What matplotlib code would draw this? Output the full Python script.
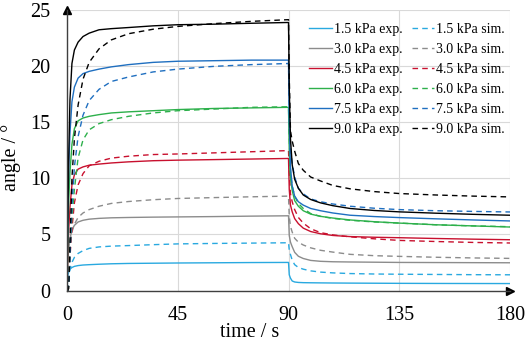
import matplotlib.pyplot as plt

plt.rcParams['font.family'] = ['Liberation Serif', 'DejaVu Serif']

# shared time grid (s)
time = [0, 0.3, 0.7, 1.2, 2, 3, 4.5, 6.5, 9, 13, 18, 25, 35, 45, 60, 75, 90,
        90.3, 90.8, 91.5, 92.5, 94, 96, 99, 103, 108, 115, 125, 135, 150, 165, 180]

# measured angle (deg)
exp_15 = [0, 1.3, 1.65, 1.9, 2.05, 2.15, 2.22, 2.27, 2.3, 2.34, 2.38, 2.41, 2.43, 2.45, 2.47, 2.49, 2.5,
          1.4, 1.1, 0.85, 0.76, 0.72, 0.7, 0.69, 0.68, 0.67, 0.66, 0.65, 0.64, 0.63, 0.625, 0.62]
exp_30 = [0, 2.5, 3.7, 4.6, 5.4, 5.8, 6.1, 6.25, 6.35, 6.42, 6.47, 6.5, 6.53, 6.55, 6.58, 6.62, 6.65,
          4.9, 4.3, 3.9, 3.4, 3.05, 2.85, 2.68, 2.6, 2.56, 2.54, 2.52, 2.5, 2.49, 2.48, 2.47]
exp_45 = [0, 3.0, 5.5, 7.4, 9.4, 10.3, 10.8, 11.0, 11.15, 11.25, 11.35, 11.45, 11.55, 11.6, 11.65, 11.7, 11.75,
          9.0, 7.6, 7.0, 6.4, 5.95, 5.55, 5.25, 5.05, 4.9, 4.8, 4.74, 4.7, 4.63, 4.57, 4.52]
exp_60 = [0, 4.0, 8.0, 10.5, 13.0, 14.4, 15.1, 15.35, 15.5, 15.65, 15.8, 15.9, 16.0, 16.1, 16.2, 16.25, 16.3,
          12.5, 10.0, 8.9, 8.0, 7.5, 7.1, 6.8, 6.6, 6.45, 6.28, 6.12, 6.0, 5.85, 5.75, 5.65]
exp_75 = [0, 6.0, 11.0, 14.0, 16.8, 18.1, 18.9, 19.3, 19.5, 19.7, 19.9, 20.1, 20.3, 20.4, 20.45, 20.5, 20.5,
          15.0, 11.0, 9.3, 8.4, 7.9, 7.6, 7.3, 7.1, 6.9, 6.7, 6.58, 6.49, 6.38, 6.28, 6.19]
exp_90 = [0, 6.0, 12.0, 17.0, 20.2, 21.4, 22.1, 22.6, 22.9, 23.2, 23.3, 23.4, 23.55, 23.65, 23.7, 23.78, 23.85,
          18.0, 13.5, 11.2, 9.9, 9.1, 8.5, 8.1, 7.8, 7.55, 7.3, 7.12, 7.0, 6.88, 6.78, 6.7]

# simulated angle (deg)
sim_15 = [0, 0.4, 1.1, 1.9, 2.5, 2.95, 3.3, 3.55, 3.75, 3.88, 3.95, 4.0, 4.08, 4.15, 4.19, 4.22, 4.25,
          3.6, 3.2, 2.7, 2.3, 2.05, 1.9, 1.75, 1.64, 1.57, 1.51, 1.47, 1.45, 1.43, 1.41, 1.4]
sim_30 = [0, 0.5, 2.0, 4.0, 5.2, 5.9, 6.5, 6.9, 7.2, 7.5, 7.75, 7.92, 8.08, 8.19, 8.27, 8.34, 8.4,
          6.6, 5.7, 5.2, 4.65, 4.3, 4.05, 3.8, 3.58, 3.42, 3.22, 3.1, 3.04, 2.96, 2.9, 2.86]
sim_45 = [0, 0, 0.8, 3.0, 5.5, 7.8, 9.4, 10.4, 11.1, 11.5, 11.78, 11.95, 12.1, 12.15, 12.25, 12.35, 12.45,
          10.5, 8.6, 7.9, 7.2, 6.5, 6.0, 5.5, 5.15, 4.95, 4.78, 4.6, 4.46, 4.36, 4.28, 4.23]
sim_60 = [0, 0, 0.5, 3.5, 6.5, 9.0, 11.8, 13.4, 14.3, 14.85, 15.2, 15.5, 15.8, 16.0, 16.15, 16.3, 16.35,
          13.5, 10.5, 9.3, 8.4, 7.75, 7.3, 6.85, 6.6, 6.42, 6.25, 6.1, 6.0, 5.85, 5.75, 5.68]
sim_75 = [0, 0, 0.5, 3.0, 7.5, 11.0, 13.7, 15.6, 16.9, 17.9, 18.6, 19.0, 19.45, 19.7, 19.95, 20.1, 20.2,
          16.0, 12.5, 11.3, 10.1, 9.1, 8.6, 8.15, 7.9, 7.7, 7.5, 7.32, 7.2, 7.1, 7.04, 6.99]
sim_90 = [0, 0, 0.2, 4.0, 10.0, 13.5, 16.5, 18.8, 20.3, 21.5, 22.3, 22.85, 23.25, 23.5, 23.75, 23.95, 24.1,
          19.0, 14.2, 13.3, 12.4, 11.3, 10.7, 10.1, 9.75, 9.35, 9.05, 8.8, 8.63, 8.5, 8.4, 8.33]

pressures = ['1.5', '3.0', '4.5', '6.0', '7.5', '9.0']
exp_data = [exp_15, exp_30, exp_45, exp_60, exp_75, exp_90]
sim_data = [sim_15, sim_30, sim_45, sim_60, sim_75, sim_90]
colors = ['#29A9E0', '#8C8C8C', '#C8102E', '#2DB04B', '#1F6FC0', '#000000']

fig = plt.figure(figsize=(5.26, 3.41), dpi=100)
ax = fig.add_axes([0.1274, 0.148, 0.8422, 0.824])

for p, e, s, c in zip(pressures, exp_data, sim_data, colors):
    ax.plot(time, e, color=c, lw=1.0, label=p + ' kPa exp.')
    ax.plot(time, s, color=c, lw=1.0, linestyle=(0, (4, 3)), label=p + ' kPa sim.')

ax.set_xlim(0, 180)
ax.set_ylim(0, 25)
ax.set_xticks([0, 45, 90, 135, 180])
ax.set_yticks([0, 5, 10, 15, 20, 25])
ax.tick_params(length=0, labelsize=14.5)
ax.tick_params(axis='x', pad=11)
ax.tick_params(axis='y', pad=12)

ax.grid(True, color='#D9D9D9', lw=0.8)
ax.set_axisbelow(True)
for side in ['top', 'right']:
    ax.spines[side].set_visible(False)
for side in ['left', 'bottom']:
    ax.spines[side].set_color('#404040')
    ax.spines[side].set_linewidth(1.0)

# axis arrows
ax.plot(0, 1, marker='^', color='black', markersize=6, transform=ax.transAxes, clip_on=False)
ax.plot(1, 0, marker='>', color='black', markersize=6, transform=ax.transAxes, clip_on=False)

ax.set_xlabel('time / s', fontsize=14.5)
ax.xaxis.set_label_coords(0.413, -0.115)
ax.set_ylabel('angle / °', fontsize=14.5)
ax.yaxis.set_label_coords(-0.104, 0.474)

# legend: exp in first column, sim in second
handles, labels = ax.get_legend_handles_labels()
order = list(range(0, 12, 2)) + list(range(1, 12, 2))
ax.legend([handles[i] for i in order], [labels[i] for i in order], ncol=2,
          loc='upper right', bbox_to_anchor=(505 / 526, 1 - 23 / 341),
          bbox_transform=fig.transFigure, frameon=False, fontsize=10,
          handlelength=1.6, handletextpad=0.15, columnspacing=0.7,
          labelspacing=0.5, borderpad=0, borderaxespad=0)

fig.savefig('out.png', dpi=100)
